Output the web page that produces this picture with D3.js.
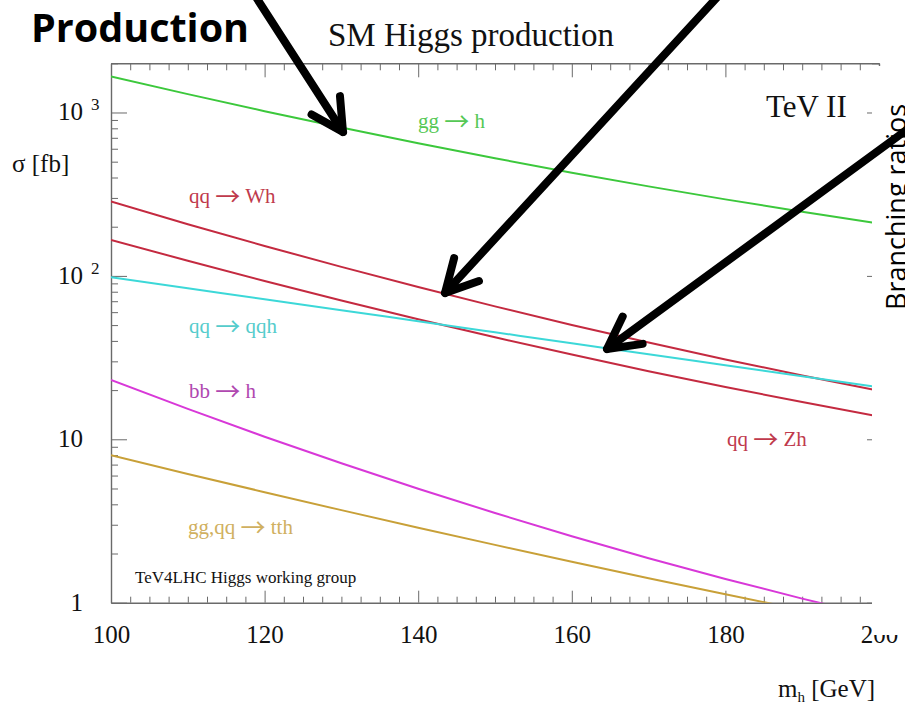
<!DOCTYPE html>
<html>
<head>
<meta charset="utf-8">
<script src="https://cdn.jsdelivr.net/npm/d3@7"></script>
<style>
  html, body { margin: 0; padding: 0; background: #fff; }
  svg { display: block; }
</style>
</head>
<body>
<svg id="chart" width="905" height="710"></svg>
<script>
// Higgs boson mass points (GeV) and cross sections (fb) per production channel
const massPoints = [100, 110, 120, 130, 140, 150, 160, 170, 180, 190, 200];
const ggH  = [1661, 1295, 1019, 809, 648, 525, 428, 353, 294, 247, 209];
const qqWH = [285, 207, 152.5, 113.5, 85.5, 65.1, 50.1, 39.1, 30.8, 24.6, 19.8];
const qqZH = [166.2, 123.7, 93.1, 70.7, 54.3, 42.1, 33.0, 26.1, 20.9, 16.9, 13.8];
const qqH  = [98.2, 84.1, 72.0, 61.7, 52.8, 45.2, 38.7, 33.2, 28.4, 24.3, 20.8];
const bbH  = [23.07, 15.35, 10.37, 7.13, 4.98, 3.54, 2.55, 1.873, 1.398, 1.059, 0.817];
const ttH  = [7.98, 6.14, 4.745, 3.686, 2.879, 2.259, 1.782, 1.413, 1.126, 0.902, 0.726];

// channel labels as [initial state, final state]
const channelNames = [["gg", "h"], ["qq", "Wh"], ["qq", "Zh"], ["qq", "qqh"], ["bb", "h"], ["gg,qq", "tth"]];
const xTickLabels = ["100", "120", "140", "160", "180", "200"];
const yDecades = [1, 10, 100, 1000];

const svg = d3.select("#chart");
const W = 905, H = 710;
const L = 111, R = 879, T = 63.3, B = 602.7;
const serif = "'Liberation Serif', 'Times New Roman', serif";

const x = d3.scaleLinear().domain([100, 200]).range([L, R]);
const y = d3.scaleLog().domain([1, 2000]).range([B, T]);

svg.append("rect").attr("width", W).attr("height", H).attr("fill", "#fff");

// clip for the curves
svg.append("defs").append("clipPath").attr("id", "plotClip")
  .append("rect").attr("x", L).attr("y", T).attr("width", R - L).attr("height", B - T);

// ---- axes ----
const minorX = d3.range(100, 200.01, 2.5).filter(v => v % 20 !== 0);
const majorX = d3.range(100, 200.01, 20);
const minorY = [];
[1, 10, 100, 1000].forEach(d => { for (let k = 2; k <= 9; k++) if (d * k <= 2000) minorY.push(d * k); });

const axisColor = "#6a6a6a";
function styleAxis(g) {
  g.selectAll("path.domain").attr("stroke", axisColor).attr("stroke-width", 1.4);
  g.selectAll(".tick line").attr("stroke", axisColor).attr("stroke-width", 1);
}

// bottom
svg.append("g").attr("transform", `translate(0,${B})`)
  .call(d3.axisBottom(x).tickValues(minorX).tickSize(-6).tickSizeOuter(0).tickFormat(""))
  .call(styleAxis);
svg.append("g").attr("transform", `translate(0,${B})`)
  .call(d3.axisBottom(x).tickValues(majorX).tickSize(-12).tickSizeOuter(0).tickPadding(23)
        .tickFormat((d, i) => xTickLabels[i]))
  .call(styleAxis)
  .call(g => g.select("path.domain").remove())
  .call(g => g.selectAll("text").attr("font-family", serif).attr("font-size", 25).attr("fill", "#111"));

// top
svg.append("g").attr("transform", `translate(0,${T})`)
  .call(d3.axisTop(x).tickValues(minorX).tickSize(-7).tickSizeOuter(0).tickFormat(""))
  .call(styleAxis);
svg.append("g").attr("transform", `translate(0,${T})`)
  .call(d3.axisTop(x).tickValues(majorX).tickSize(-14).tickSizeOuter(0).tickFormat(""))
  .call(styleAxis).call(g => g.select("path.domain").remove());

// left
svg.append("g").attr("transform", `translate(${L},0)`)
  .call(d3.axisLeft(y).tickValues(minorY).tickSize(-7).tickSizeOuter(0).tickFormat(""))
  .call(styleAxis);
svg.append("g").attr("transform", `translate(${L},0)`)
  .call(d3.axisLeft(y).tickValues(yDecades).tickSize(-16).tickSizeOuter(0).tickFormat(""))
  .call(styleAxis).call(g => g.select("path.domain").remove());

// right
svg.append("g").attr("transform", `translate(${R},0)`)
  .call(d3.axisRight(y).tickValues(minorY).tickSize(-7).tickSizeOuter(0).tickFormat(""))
  .call(styleAxis);
svg.append("g").attr("transform", `translate(${R},0)`)
  .call(d3.axisRight(y).tickValues(yDecades).tickSize(-12).tickSizeOuter(0).tickFormat(""))
  .call(styleAxis).call(g => g.select("path.domain").remove());

// y tick labels: 1, 10, 10^2, 10^3
const yLab = svg.append("g").attr("font-family", serif).attr("fill", "#111");
yDecades.forEach(v => {
  const exp = Math.round(Math.log10(v));
  const yy = y(v) + 8;
  if (exp <= 1) {
    yLab.append("text").attr("x", 83).attr("y", yy).attr("text-anchor", "end")
      .attr("font-size", 25).text(String(v));
  } else {
    yLab.append("text").attr("x", 83).attr("y", yy).attr("text-anchor", "end")
      .attr("font-size", 25).text("10");
    yLab.append("text").attr("x", 91).attr("y", yy - 10)
      .attr("font-size", 17).text(String(exp));
  }
});

// axis titles
svg.append("text").attr("x", 12).attr("y", 172).attr("font-family", serif)
  .attr("font-size", 25).attr("fill", "#111").text("\u03c3 [fb]");
const mh = svg.append("text").attr("x", 778).attr("y", 697).attr("font-family", serif)
  .attr("font-size", 25).attr("fill", "#111");
mh.append("tspan").text("m");
mh.append("tspan").attr("font-size", 15).attr("dy", 5).text("h");
mh.append("tspan").attr("dy", -5).text(" [GeV]");

// title
svg.append("text").attr("x", 471).attr("y", 46).attr("text-anchor", "middle")
  .attr("font-family", serif).attr("font-size", 33).attr("fill", "#111").text("SM Higgs production");

// ---- curves ----
const series = [
  { name: channelNames[0], values: ggH,  color: "#3cc83c", text: "#55c855", lx: 418, ly: 128 },
  { name: channelNames[1], values: qqWH, color: "#c42a40", text: "#c03a4c", lx: 189, ly: 203 },
  { name: channelNames[2], values: qqZH, color: "#c42a40", text: "#c03a4c", lx: 727, ly: 446 },
  { name: channelNames[3], values: qqH,  color: "#3cd8d8", text: "#55cccc", lx: 189, ly: 333 },
  { name: channelNames[4], values: bbH,  color: "#d838d8", text: "#b048b0", lx: 189, ly: 398 },
  { name: channelNames[5], values: ttH,  color: "#c8a038", text: "#d0b060", lx: 188, ly: 534 }
];

const line = d3.line()
  .x((d, i) => x(massPoints[i]))
  .y(d => y(d))
  .curve(d3.curveMonotoneX);

const curves = svg.append("g").attr("clip-path", "url(#plotClip)");
series.forEach(s => {
  curves.append("path").attr("d", line(s.values)).attr("fill", "none")
    .attr("stroke", s.color).attr("stroke-width", 2);
});

series.forEach(s => {
  const t = svg.append("text").attr("x", s.lx).attr("y", s.ly).attr("font-family", serif)
    .attr("font-size", 21).attr("fill", s.text);
  t.append("tspan").text(s.name[0] + " ");
  t.append("tspan").attr("font-family", "'Noto Sans CJK SC', 'DejaVu Sans', sans-serif")
    .attr("font-size", 25).attr("dy", 3).text("\u2192");
  t.append("tspan").attr("dy", -3).text(" " + s.name[1]);
});

svg.append("text").attr("x", 135).attr("y", 583).attr("font-family", serif)
  .attr("font-size", 17).attr("fill", "#111").text("TeV4LHC Higgs working group");
svg.append("text").attr("x", 766).attr("y", 117).attr("font-family", serif)
  .attr("font-size", 31).attr("fill", "#111").text("TeV II");

// right margin panel sitting over the plot edge
svg.append("rect").attr("x", 872).attr("y", 66).attr("width", 40).attr("height", 569).attr("fill", "#fff");

// ---- slide annotations ----
const sans = "'Open Sans', 'Noto Sans', sans-serif";
svg.append("text").attr("x", 31).attr("y", 42).attr("font-family", sans)
  .attr("font-weight", 700).attr("font-size", 39.5).attr("fill", "#000").text("Production");
svg.append("text").attr("transform", "translate(906,310) rotate(-90)")
  .attr("font-family", sans).attr("font-size", 27).attr("fill", "#000").text("Branching ratios");

const arrows = [
  { from: [254, -6], to: [343, 132] },
  { from: [722, -8], to: [445, 293] },
  { from: [912, 126], to: [607, 349] }
];
const ag = svg.append("g").attr("stroke", "#000").attr("stroke-width", 8)
  .attr("stroke-linecap", "round").attr("stroke-linejoin", "round").attr("fill", "none");
arrows.forEach(a => {
  const [x0, y0] = a.from, [x1, y1] = a.to;
  const back = Math.atan2(y0 - y1, x0 - x1);
  const len = 36, spread = 28 * Math.PI / 180;
  const w1 = [x1 + len * Math.cos(back + spread), y1 + len * Math.sin(back + spread)];
  const w2 = [x1 + len * Math.cos(back - spread), y1 + len * Math.sin(back - spread)];
  ag.append("path").attr("d", `M${x0},${y0}L${x1},${y1}`);
  ag.append("path").attr("d", `M${w1[0]},${w1[1]}L${x1},${y1}L${w2[0]},${w2[1]}`);
});
</script>
</body>
</html>
